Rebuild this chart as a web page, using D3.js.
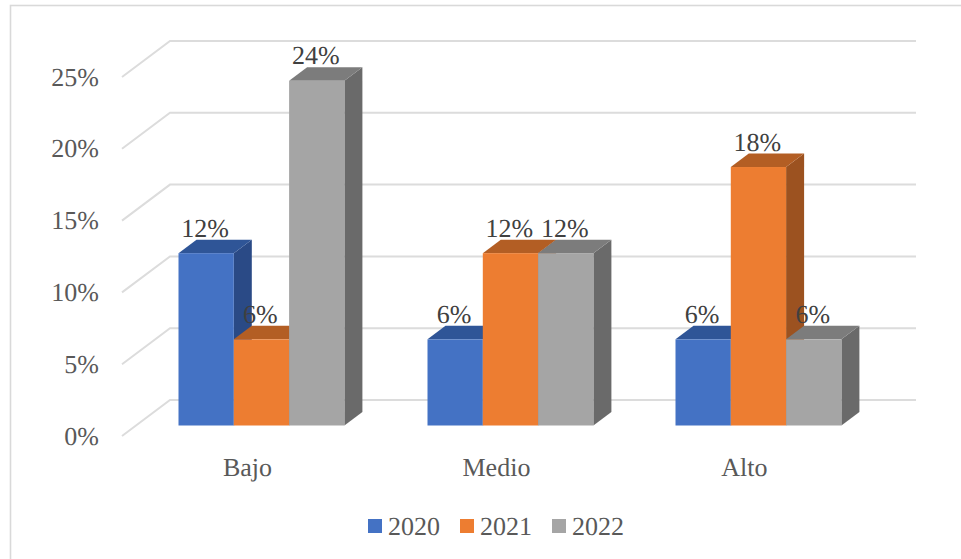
<!DOCTYPE html>
<html><head><meta charset="utf-8">
<script src="https://cdn.jsdelivr.net/npm/d3@7/dist/d3.min.js"></script>
<style>html,body{margin:0;padding:0;background:#fff}svg{display:block}text{font-family:"Liberation Serif",serif;text-rendering:geometricPrecision}</style>
</head><body><svg id="c" width="961" height="559"></svg>
<script>
const categories = ["Bajo","Medio","Alto"];
const seriesNames = ["2020","2021","2022"];
const values2020 = [12,6,6];
const values2021 = [6,12,18];
const values2022 = [24,12,6];
const tickValues = [0,5,10,15,20,25];
const seriesValues = [values2020,values2021,values2022];
const front = ["#4472c4","#ed7d31","#a5a5a5"];
const top_ = ["#2f5597","#b35e24","#7c7c7c"];
const side = ["#2a4a86","#9c5220","#6a6a6a"];

const svg = d3.select("#c");
svg.append("rect").attr("x",10.5).attr("y",5.5).attr("width",960).attr("height",600).attr("fill","#fff").attr("stroke","#d9d9d9").attr("stroke-width",1.6);

const y = d3.scaleLinear().domain([0,25]).range([425.5,66.5]);
const gridY = d3.scaleLinear().domain([0,25]).range([400,41]);
const groupX = d3.scaleOrdinal().domain(categories).range([178.5,427.5,675.5]);
const barW = 55.3, dx = 18, dy = 13.5;

const gg = svg.append("g").attr("fill","none").attr("stroke","#dcdcdc").attr("stroke-width",2);
tickValues.forEach(t=>{
  gg.append("path").attr("d",`M122,${gridY(t)+36}L170,${gridY(t)}H916`);
});
const ax = svg.append("g").attr("fill","#595959").attr("font-size",26).attr("text-anchor","end");
tickValues.forEach(t=>{
  ax.append("text").attr("x",99).attr("y",gridY(t)+36+8.5).text(t+"%");
});

const labels=[];
categories.forEach((c,ci)=>{
  [0,1,2].forEach(si=>{
    const v = seriesValues[si][ci];
    const x0 = groupX(c)+si*barW, x1 = x0+barW, yt = y(v), yb = y(0);
    const g = svg.append("g");
    g.append("path").attr("fill",side[si]).attr("d",`M${x1},${yt}l${dx},${-dy}V${yb-dy}l${-dx},${dy}Z`);
    g.append("path").attr("fill",top_[si]).attr("d",`M${x0},${yt}l${dx},${-dy}H${x1+dx}l${-dx},${dy}Z`);
    g.append("rect").attr("x",x0).attr("y",yt).attr("width",barW).attr("height",yb-yt).attr("fill",front[si]);
    labels.push({x:x0+barW/2-1,y:yt-16.5,t:v+"%"});
  });
  svg.append("text").attr("x",groupX(c)+barW*1.5-14).attr("y",476).attr("text-anchor","middle").attr("font-size",26).attr("fill","#595959").text(c);
});
svg.append("g").attr("font-size",26).attr("fill","#404040").attr("text-anchor","middle")
  .selectAll("text").data(labels).join("text").attr("x",d=>d.x).attr("y",d=>d.y).text(d=>d.t);

const legendX = d3.scaleOrdinal().domain(seriesNames).range([368,460,552]);
seriesNames.forEach((s,i)=>{
  svg.append("rect").attr("x",legendX(s)).attr("y",519).attr("width",14).attr("height",14).attr("fill",front[i]);
  svg.append("text").attr("x",legendX(s)+20).attr("y",535).attr("font-size",26).attr("fill","#595959").text(s);
});
</script></body></html>
